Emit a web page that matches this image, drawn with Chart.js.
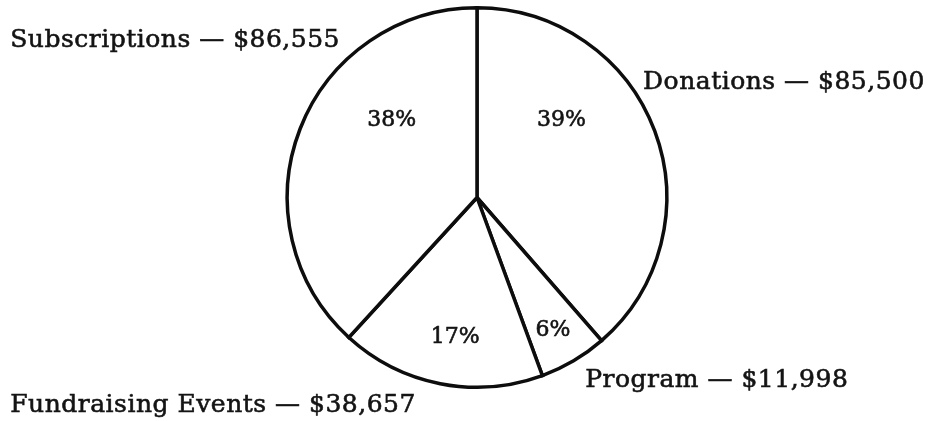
<!DOCTYPE html>
<html>
<head>
    <title>Revenue Sources</title>
    <script src="https://cdn.jsdelivr.net/npm/chart.js"></script>
    <style>
        html, body { margin: 0; padding: 0; background: #fff; }
        #wrap { width: 942px; height: 421px; position: relative; }
    </style>
</head>
<body>
    <div id="wrap"><canvas id="revenuePie"></canvas></div>

    <script>
        // slices run clockwise from 12 o'clock
        const categories = ['Donations', 'Program', 'Fundraising Events', 'Subscriptions'];
        const amounts = ['$85,500', '$11,998', '$38,657', '$86,555'];
        const percentLabels = ['39%', '6%', '17%', '38%'];
        const sliceShares = [38.6, 5.8, 17.4, 38.2];

        // where each text goes, relative to the pie centre, in units of the radius
        const textSpots = {
            outside: [
                { dx: 0.875, dy: -0.605 },   // Donations
                { dx: 0.57, dy: 0.965 },     // Program
                { dx: -2.46, dy: 1.095 },    // Fundraising
                { dx: -2.46, dy: -0.83 }     // Subscriptions
            ],
            inside: [
                { dx: 0.445, dy: -0.405 },
                { dx: 0.40, dy: 0.70 },
                { dx: -0.115, dy: 0.735 },
                { dx: -0.45, dy: -0.405 }
            ]
        };

        function inkText(ctx, str, x, y) {
            ctx.fillText(str, x, y);
            ctx.strokeText(str, x, y);
        }

        const pieText = {
            id: 'pieText',
            afterDatasetsDraw(chart) {
                const ctx = chart.ctx;
                const arc = chart.getDatasetMeta(0).data[0];
                const cx = arc.x, cy = arc.y, r = arc.outerRadius;
                ctx.save();
                ctx.fillStyle = '#141414';
                ctx.strokeStyle = '#141414';
                ctx.lineWidth = 0.6;
                ctx.textBaseline = 'middle';

                ctx.font = '25px "DejaVu Serif"';
                ctx.letterSpacing = '0.5px';
                ctx.textAlign = 'left';
                categories.forEach((name, i) => {
                    const s = textSpots.outside[i];
                    inkText(ctx, name + ' \u2014 ' + amounts[i], cx + s.dx * r, cy + s.dy * r);
                });

                ctx.font = '22px "DejaVu Serif"';
                ctx.letterSpacing = '0px';
                ctx.textAlign = 'center';
                percentLabels.forEach((p, i) => {
                    const s = textSpots.inside[i];
                    inkText(ctx, p, cx + s.dx * r, cy + s.dy * r);
                });
                ctx.restore();
            }
        };

        new Chart(document.getElementById('revenuePie'), {
            type: 'pie',
            data: {
                labels: categories,
                datasets: [{
                    data: sliceShares,
                    backgroundColor: '#ffffff',
                    borderColor: '#0d0d0d',
                    borderWidth: 3.5,
                    borderJoinStyle: 'miter'
                }]
            },
            options: {
                responsive: true,
                maintainAspectRatio: false,
                animation: false,
                layout: {
                    padding: { top: 6, bottom: 32, left: 200, right: 188 }
                },
                plugins: {
                    legend: { display: false },
                    tooltip: { enabled: false }
                }
            },
            plugins: [pieText]
        });
    </script>
</body>
</html>
